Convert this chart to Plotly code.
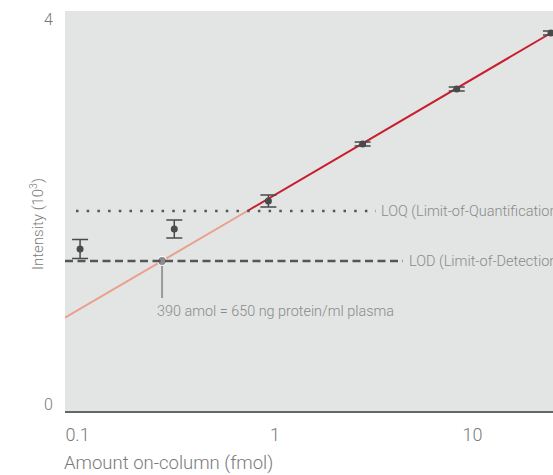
import plotly.graph_objects as go
import math

# ---- data ----
amount_fmol = [0.103, 0.309, 0.926, 2.78, 8.33, 25.0]
intensity = [1.62, 1.82, 2.10, 2.67, 3.22, 3.78]
intensity_err = [0.095, 0.09, 0.06, 0.02, 0.02, 0.02]

fit_low_x = [0.0864, 0.724]
fit_low_y = [0.933, 2.0]
fit_high_x = [0.724, 25.0]
fit_high_y = [2.0, 3.78]

loq_value = 2.0
lod_value = 1.5
lod_x = 0.268

x_tick_vals = [0.1, 1, 10]
x_tick_text = ["0.1", "1", "10"]
y_tick_vals = [0, 4]

x_range = [0.0864, 25.6]
y_range = [0, 4]

FONT = "Roboto"
TXT = "#8a8a8a"
TICK = "#7a7a7a"
DARK = "#555555"

fig = go.Figure()

fig.add_trace(go.Scatter(x=fit_low_x, y=fit_low_y, mode="lines",
                         line=dict(color="#e9a18c", width=2), hoverinfo="skip"))
fig.add_trace(go.Scatter(x=fit_high_x, y=fit_high_y, mode="lines",
                         line=dict(color="#c81e2d", width=2), hoverinfo="skip",
                         cliponaxis=False))

# LOD / LOQ lines
fig.add_shape(type="line", xref="paper", yref="y",
              x0=(76 - 65) / 488, x1=(376 - 65) / 488, y0=loq_value, y1=loq_value,
              line=dict(color=DARK, width=2.5, dash="2.5px,8.2px"))
fig.add_shape(type="line", xref="paper", yref="y",
              x0=0, x1=(403 - 65) / 488, y0=lod_value, y1=lod_value,
              line=dict(color=DARK, width=2.5, dash="8px,4.5px"))

# annotation stem
fig.add_trace(go.Scatter(x=[lod_x, lod_x], y=[lod_value, lod_value - 0.37], mode="lines",
                         line=dict(color="#999999", width=2), hoverinfo="skip"))
fig.add_trace(go.Scatter(x=[lod_x], y=[lod_value], mode="markers",
                         marker=dict(color="#8c8c8c", size=9, line=dict(color="white", width=1.2)),
                         hoverinfo="skip"))

fig.add_trace(go.Scatter(x=amount_fmol, y=intensity, mode="markers",
                         marker=dict(color="#4a4a4a", size=7),
                         error_y=dict(type="data", array=intensity_err, color="#4a4a4a",
                                      thickness=1.5, width=8),
                         cliponaxis=False, hoverinfo="skip"))

annotations = [
    dict(xref="paper", yref="y", x=(379 - 65) / 488, y=loq_value, xanchor="left", yanchor="middle",
         text="LOQ (Limit-of-Quantification)", showarrow=False, font=dict(family=FONT, size=14.5, color=TXT)),
    dict(xref="paper", yref="y", x=(407 - 65) / 488, y=lod_value, xanchor="left", yanchor="middle",
         text="LOD (Limit-of-Detection)", showarrow=False, font=dict(family=FONT, size=14.5, color=TXT)),
    dict(xref="x", yref="y", x=math.log10(lod_x), y=lod_value - 0.50, xanchor="left", yanchor="middle",
         xshift=-7, text="390 amol = 650 ng protein/ml plasma", showarrow=False,
         font=dict(family=FONT, size=14.4, color=TXT)),
    dict(xref="paper", yref="y", x=0, y=y_tick_vals[1], xanchor="right", yanchor="top", xshift=-10, yshift=3,
         text=str(y_tick_vals[1]), showarrow=False, font=dict(family=FONT, size=16, color=TICK)),
    dict(xref="paper", yref="y", x=0, y=y_tick_vals[0], xanchor="right", yanchor="bottom", xshift=-10, yshift=-5,
         text=str(y_tick_vals[0]), showarrow=False, font=dict(family=FONT, size=16, color=TICK)),
    dict(xref="paper", yref="paper", x=0, y=0, xanchor="left", yanchor="middle", yshift=-52, xshift=-3,
         text="Amount on-column (fmol)", showarrow=False, font=dict(family=FONT, size=18.5, color=TICK)),
    dict(xref="paper", yref="paper", x=0, y=0.5, xanchor="center", yanchor="middle", xshift=-28, yshift=-13,
         textangle=-90, text="Intensity (10<sup>3</sup>)", showarrow=False,
         font=dict(family=FONT, size=15, color=TICK)),
]

fig.update_layout(
    width=553, height=475,
    margin=dict(l=65, r=0, t=11, b=64),
    paper_bgcolor="white", plot_bgcolor="#e3e4e4",
    showlegend=False,
    font=dict(family=FONT, color=TICK, weight=300),
    annotations=annotations,
    xaxis=dict(type="log", range=[math.log10(x_range[0]), math.log10(x_range[1])],
               tickvals=x_tick_vals, ticktext=x_tick_text, showgrid=False, zeroline=False,
               showline=True, linecolor="#666666", linewidth=2, ticks="",
               tickfont=dict(family=FONT, size=18, color=TICK), ticklabelstandoff=6),
    yaxis=dict(range=y_range, showgrid=False, zeroline=False, showticklabels=False,
               ticks="", showline=False),
)

fig.write_html("out.html", config={"displayModeBar": False},
               post_script="document.body.style.margin='0';document.body.style.overflow='hidden';")
